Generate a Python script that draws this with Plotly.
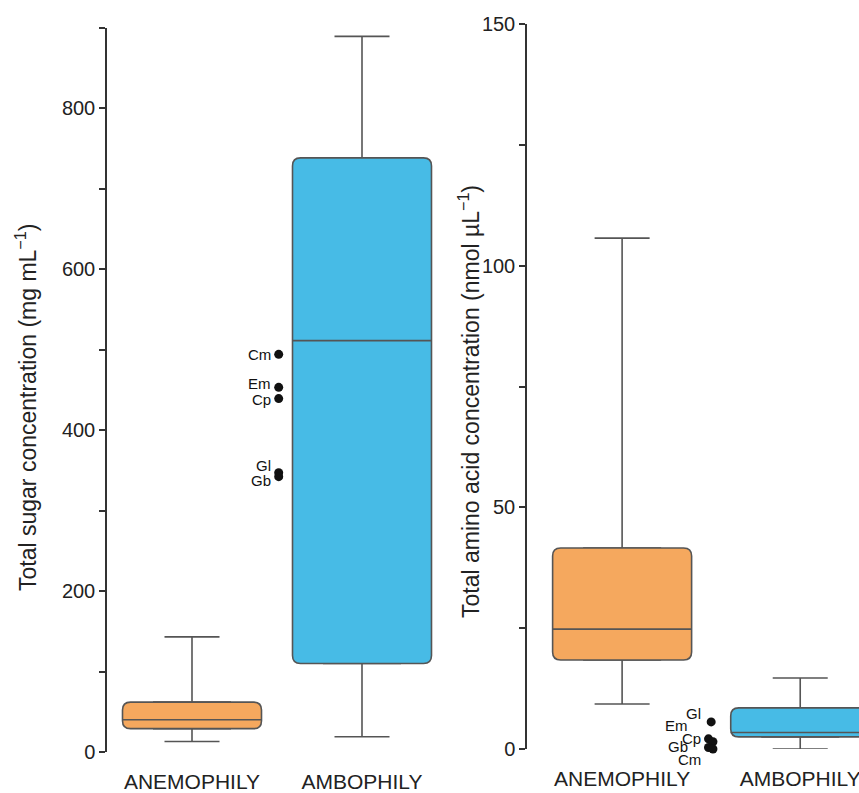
import plotly.graph_objects as go

# ---------------- data ----------------
categories = ["ANEMOPHILY", "AMBOPHILY"]

# Total sugar concentration (mg mL-1)
sugar_q1 = [29, 110]
sugar_median = [40, 511]
sugar_q3 = [62, 738]
sugar_lower = [13, 19]
sugar_upper = [143, 889]

sugar_pt_labels = ["Cm", "Em", "Cp", "Gl", "Gb"]
sugar_pt_values = [494, 453, 439, 347, 342]

# Total amino acid concentration (nmol uL-1)
amino_q1 = [18.4, 2.5]
amino_median = [24.8, 3.4]
amino_q3 = [41.6, 8.5]
amino_lower = [9.3, 0.0]
amino_upper = [105.7, 14.7]

amino_pt_labels = ["Gl", "Em", "Cp", "Gb", "Cm"]
amino_pt_values = [5.6, 2.1, 1.5, 0.3, 0.0]

# ---------------- style / layout ----------------
W, H = 859, 793
FONT = "Liberation Sans, Arial, Helvetica, sans-serif"
FILLS = ["#F5A85E", "#47BBE6"]
LINE = "#555555"
AX = "#333333"

# panel geometry (pixels)
L_x0, L_x1, L_xr = 107, 447, (-0.5, 1.5)
R_x0, R_x1, R_xr = 527, 859, (-0.534, 1.33)
L_ytop, L_ybot, L_yr = 27.5, 752, (0, 900)
R_ytop, R_ybot, R_yr = 24, 749, (0, 150)

BOX_PX = 139      # visible box width in pixels
INNER = 0.55      # fraction used for the underlying box trace
CAP_PX = 55
RADIUS = 8

pxx_L = (L_x1 - L_x0) / (L_xr[1] - L_xr[0])
pxx_R = (R_x1 - R_x0) / (R_xr[1] - R_xr[0])
pxy_L = (L_ybot - L_ytop) / (L_yr[1] - L_yr[0])
pxy_R = (R_ybot - R_ytop) / (R_yr[1] - R_yr[0])

fig = go.Figure()
shapes = []
annotations = []


def rounded_path(x0, x1, y0, y1, rx, ry):
    ry = min(ry, (y1 - y0) / 2)
    return (f"M {x0+rx},{y0} L {x1-rx},{y0} Q {x1},{y0} {x1},{y0+ry} "
            f"L {x1},{y1-ry} Q {x1},{y1} {x1-rx},{y1} L {x0+rx},{y1} "
            f"Q {x0},{y1} {x0},{y1-ry} L {x0},{y0+ry} Q {x0},{y0} {x0+rx},{y0} Z")


def add_panel(q1, med, q3, lo, hi, xa, ya, pxx, pxy):
    bw = BOX_PX / pxx
    inner_w = bw * INNER
    for i in range(len(categories)):
        fig.add_trace(go.Box(
            x=[i], q1=[q1[i]], median=[med[i]], q3=[q3[i]],
            lowerfence=[lo[i]], upperfence=[hi[i]],
            width=inner_w, whiskerwidth=(CAP_PX / pxx) / inner_w,
            fillcolor=FILLS[i], line=dict(color=LINE, width=1.6),
            boxpoints=False, showlegend=False, name=categories[i],
            xaxis=xa, yaxis=ya, hoverinfo="skip"))
        xref = "x" if xa == "x" else "x2"
        yref = "y" if ya == "y" else "y2"
        shapes.append(dict(
            type="path", xref=xref, yref=yref, layer="above",
            path=rounded_path(i - bw / 2, i + bw / 2, q1[i], q3[i],
                              RADIUS / pxx, RADIUS / pxy),
            fillcolor=FILLS[i], line=dict(color=LINE, width=1.6)))
        shapes.append(dict(
            type="line", xref=xref, yref=yref, layer="above",
            x0=i - bw / 2, x1=i + bw / 2, y0=med[i], y1=med[i],
            line=dict(color=LINE, width=1.6)))


add_panel(sugar_q1, sugar_median, sugar_q3, sugar_lower, sugar_upper, "x", "y", pxx_L, pxy_L)
add_panel(amino_q1, amino_median, amino_q3, amino_lower, amino_upper, "x2", "y2", pxx_R, pxy_R)

# outlier points (placed midway between the two groups)
sugar_pt_x = [0.51] * len(sugar_pt_values)
amino_pt_x = [0.50, 0.485, 0.51, 0.485, 0.51]

fig.add_trace(go.Scatter(x=sugar_pt_x, y=sugar_pt_values, mode="markers",
                         marker=dict(color="#111111", size=9),
                         xaxis="x", yaxis="y", showlegend=False, cliponaxis=False,
                         text=sugar_pt_labels, hoverinfo="text+y"))
fig.add_trace(go.Scatter(x=amino_pt_x, y=amino_pt_values, mode="markers",
                         marker=dict(color="#111111", size=9),
                         xaxis="x2", yaxis="y2", showlegend=False, cliponaxis=False,
                         text=amino_pt_labels, hoverinfo="text+y"))

sugar_lab_shift = [(-6, 0), (-6, 4), (-6, -1), (-6, 7), (-6, -4)]
amino_lab_shift = [(-8, 8), (-19, 13), (-10, 3), (-19, 1), (-10, -10)]

for lab, xv, yv, (dx, dy) in zip(sugar_pt_labels, sugar_pt_x, sugar_pt_values, sugar_lab_shift):
    annotations.append(dict(text=lab, x=xv, y=yv, xref="x", yref="y", showarrow=False,
                            xanchor="right", yanchor="middle", xshift=dx, yshift=dy,
                            font=dict(family=FONT, size=15, color="#111111")))
for lab, xv, yv, (dx, dy) in zip(amino_pt_labels, amino_pt_x, amino_pt_values, amino_lab_shift):
    annotations.append(dict(text=lab, x=xv, y=yv, xref="x2", yref="y2", showarrow=False,
                            xanchor="right", yanchor="middle", xshift=dx, yshift=dy,
                            font=dict(family=FONT, size=15, color="#111111")))

# axis titles
annotations.append(dict(text="Total sugar concentration (mg mL<sup>−1</sup>)",
                        x=26 / W, y=1 - 408 / H, xref="paper", yref="paper",
                        showarrow=False, textangle=-90, xanchor="center", yanchor="middle",
                        font=dict(family=FONT, size=23, color="#222222")))
annotations.append(dict(text="Total amino acid concentration (nmol µL<sup>−1</sup>)",
                        x=469 / W, y=1 - 402 / H, xref="paper", yref="paper",
                        showarrow=False, textangle=-90, xanchor="center", yanchor="middle",
                        font=dict(family=FONT, size=23, color="#222222")))

xcommon = dict(showline=False, showgrid=False, zeroline=False, automargin=False,
               tickvals=list(range(len(categories))), ticktext=categories,
               ticks="outside", ticklen=11, tickcolor="rgba(0,0,0,0)",
               ticklabeloverflow="allow",
               tickfont=dict(family=FONT, size=21, color="#222222"), fixedrange=True)
ycommon = dict(showline=True, linecolor=AX, linewidth=1.5, showgrid=False, zeroline=False,
               automargin=False,
               ticks="outside", ticklen=6, tickwidth=1.5, tickcolor=AX,
               tickfont=dict(family=FONT, size=20, color="#222222"), fixedrange=True)

fig.update_layout(
    width=W, height=H,
    margin=dict(l=0, r=0, t=0, b=0, autoexpand=False),
    plot_bgcolor="white", paper_bgcolor="white",
    showlegend=False,
    xaxis=dict(domain=[L_x0 / W, L_x1 / W], range=list(L_xr), anchor="y", **xcommon),
    xaxis2=dict(domain=[R_x0 / W, R_x1 / W], range=list(R_xr), anchor="y2", **xcommon),
    yaxis=dict(domain=[1 - L_ybot / H, 1 - L_ytop / H], range=list(L_yr), anchor="x",
               tick0=0, dtick=200,
               minor=dict(dtick=100, ticks="outside", ticklen=6, tickwidth=1.5, tickcolor=AX),
               **ycommon),
    yaxis2=dict(domain=[1 - R_ybot / H, 1 - R_ytop / H], range=list(R_yr), anchor="x2",
                tick0=0, dtick=50,
                minor=dict(dtick=25, ticks="outside", ticklen=6, tickwidth=1.5, tickcolor=AX),
                **ycommon),
    shapes=shapes,
    annotations=annotations,
)

fig.write_html("out.html", config={"displayModeBar": False},
               post_script="document.body.style.margin='0';document.body.style.overflow='hidden';")
